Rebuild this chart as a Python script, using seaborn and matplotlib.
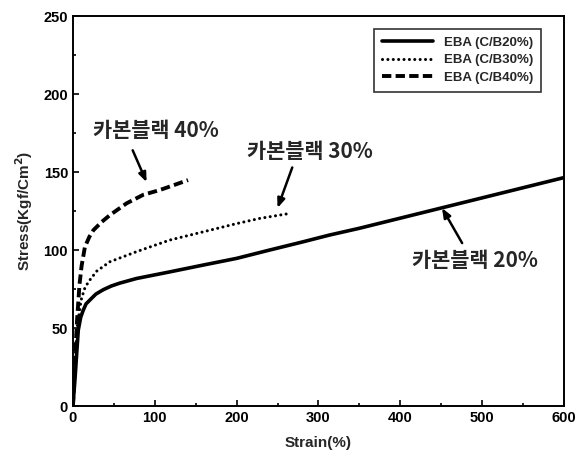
import pandas as pd
import seaborn as sns
import matplotlib.pyplot as plt

# values
strain_20 = [0, 2.4, 6.5, 9.5, 12.6, 16, 20.7, 28, 37, 47, 57, 77.7, 118, 159, 200, 240, 281, 313, 350, 400, 450, 500, 550, 600]
stress_20 = [0, 16.7, 48.7, 57, 61.5, 65.5, 68, 71.8, 74.6, 77, 78.8, 81.8, 86, 90.4, 94.7, 100, 105.3, 109.6, 114, 120.5, 127, 133.5, 140, 146.5]
strain_30 = [0, 2, 5, 10, 14, 18.7, 29, 45, 77.7, 118, 159, 200, 228, 264.6]
stress_30 = [0, 25, 50, 68, 75, 79.5, 86.5, 92.5, 99, 106.4, 111.7, 117, 120.3, 123.5]
strain_40 = [0, 2, 5, 8, 10.6, 14.6, 20, 25, 35, 45, 65.5, 86, 106, 125, 140.6]
stress_40 = [0, 25, 55, 78, 90, 102, 108.5, 112.8, 118, 122.4, 130, 135.5, 138.5, 142, 144.9]

labels = ["EBA (C/B20%)", "EBA (C/B30%)", "EBA (C/B40%)"]
notes = ["카본블랙 20%", "카본블랙 30%", "카본블랙 40%"]

sns.set_style("ticks")
plt.rcParams['font.family'] = ['Liberation Sans', 'Noto Sans CJK KR', 'DejaVu Sans']

fig = plt.figure(figsize=(5.79, 4.63), dpi=100)
ax = fig.add_axes([0.126, 0.123, 0.848, 0.842])

series = [(strain_20, stress_20), (strain_30, stress_30), (strain_40, stress_40)]
for (xs, ys), lab in zip(series, labels):
    df = pd.DataFrame({"strain": xs, "stress": ys})
    sns.lineplot(data=df, x="strain", y="stress", ax=ax, color="black", lw=2.6,
                 sort=False, label=lab)

l20, l30, l40 = ax.lines[:3]
l20.set_solid_joinstyle("round")
l30.set_linewidth(2.2)
l30.set_dashes((0.01, 1.75))
l30.set_dash_capstyle("round")
l40.set_linewidth(2.8)
l40.set_dashes((2.4, 1.1))

ax.set_xlim(0, 600)
ax.set_ylim(0, 250)
ax.set_xticks(range(0, 601, 100))
ax.set_xticks(range(0, 601, 50), minor=True)
ax.set_yticks(range(0, 251, 50))
ax.set_yticks(range(0, 251, 25), minor=True)
ax.tick_params(which="both", direction="in", colors="black", labelsize=10.5, width=1.2)
ax.tick_params(which="major", length=4)
ax.tick_params(which="minor", length=2.5)
for t in ax.get_xticklabels() + ax.get_yticklabels():
    t.set_fontweight("bold")
for s in ax.spines.values():
    s.set_color("black")
    s.set_linewidth(1.4)

ax.set_xlabel("Strain(%)", fontsize=11, fontweight="bold", labelpad=8)
ax.set_ylabel("Stress(Kgf/Cm$^\\mathbf{2}$)", fontsize=11, fontweight="bold", labelpad=6)

leg = ax.legend(loc="upper right", bbox_to_anchor=(0.967, 0.985), frameon=True,
                fancybox=False, edgecolor="black", handlelength=3.9,
                prop={"weight": "bold", "size": 9.5}, labelspacing=0.4, borderpad=0.6)
leg.get_frame().set_linewidth(1.2)

kfont = {"family": ["Noto Sans CJK KR", "DejaVu Sans"], "size": 15, "weight": "bold"}
ax.text(491, 93.6, notes[0], ha="center", va="center", fontdict=kfont)
ax.text(289, 163, notes[1], ha="center", va="center", fontdict=kfont)
ax.text(101, 177, notes[2], ha="center", va="center", fontdict=kfont)

arrow = dict(arrowstyle="-|>,head_length=0.55,head_width=0.22", color="black", lw=1.8,
             shrinkA=0, shrinkB=0)
ax.annotate("", xy=(451, 127), xytext=(475.6, 104.5), arrowprops=arrow)
ax.annotate("", xy=(250, 127), xytext=(268, 153), arrowprops=arrow)
ax.annotate("", xy=(90, 143.6), xytext=(73, 164), arrowprops=arrow)

plt.savefig("out.png", dpi=100)
plt.close()
